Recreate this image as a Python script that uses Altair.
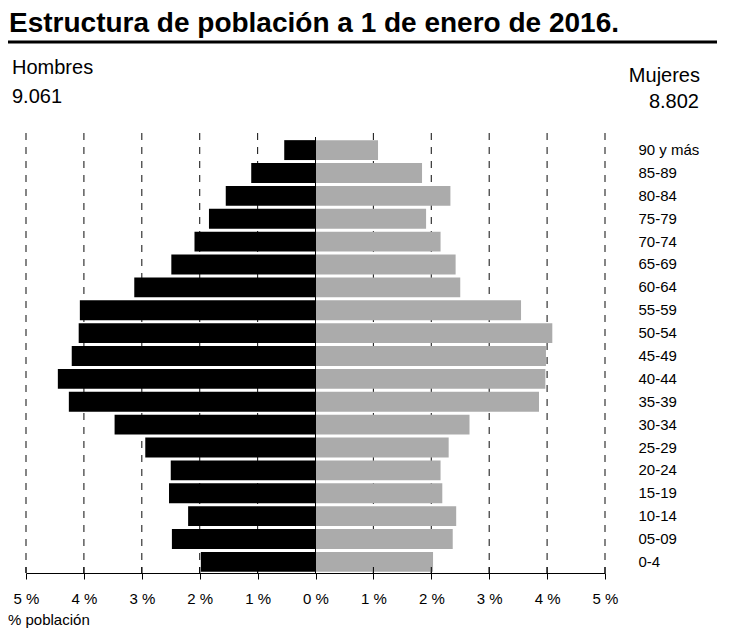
import altair as alt
import pandas as pd

ages = ["90 y más", "85-89", "80-84", "75-79", "70-74", "65-69", "60-64",
        "55-59", "50-54", "45-49", "40-44", "35-39", "30-34", "25-29",
        "20-24", "15-19", "10-14", "05-09", "0-4"]
hombres = [0.54, 1.11, 1.55, 1.84, 2.09, 2.49, 3.13, 4.07, 4.09, 4.21,
           4.45, 4.26, 3.47, 2.94, 2.50, 2.53, 2.20, 2.48, 1.98]
mujeres = [1.08, 1.84, 2.33, 1.91, 2.16, 2.42, 2.50, 3.55, 4.09, 3.98,
           3.97, 3.86, 2.66, 2.30, 2.16, 2.19, 2.43, 2.37, 2.03]
ticks = [-5, -4, -3, -2, -1, 0, 1, 2, 3, 4, 5]
grid_vals = [-5, -4, -3, -2, -1, 1, 2, 3, 4, 5]

title_text = "Estructura de población a 1 de enero de 2016."
total_h = "9.061"
total_m = "8.802"

W, H = 579, 434
FONT = "Liberation Sans"

rows = []
for a, h, m in zip(ages, hombres, mujeres):
    rows.append({"age": a, "sexo": "Hombres", "value": -h})
    rows.append({"age": a, "sexo": "Mujeres", "value": m})
df = pd.DataFrame(rows)

xscale = alt.Scale(domain=[-5, 5], nice=False, zero=False)
xaxis = alt.Axis(values=ticks, labelExpr="abs(datum.value) + ' %'",
                 grid=False, domainColor="black", tickColor="black",
                 tickSize=6, labelPadding=12, labelFont=FONT,
                 labelFontSize=15, labelColor="black", title=None,
                 labelFlush=False, labelOverlap=False)

gdf = pd.DataFrame({"v": grid_vals})
grid = alt.Chart(gdf).mark_rule(color="#222222", strokeWidth=1.1,
                                strokeDash=[7, 7]).encode(
    x=alt.X("v:Q", scale=xscale, axis=xaxis, title=None),
    y=alt.value(-6), y2=alt.value(H))

bars = alt.Chart(df).mark_bar().encode(
    x=alt.X("value:Q", scale=xscale, title=None, axis=xaxis),
    y=alt.Y("age:N", sort=ages, title=None,
            scale=alt.Scale(paddingInner=0.13, paddingOuter=0.05),
            axis=alt.Axis(orient="right", ticks=False, domain=False,
                          labelPadding=33, labelFont=FONT, labelFontSize=15,
                          labelColor="black", labelAlign="left")),
    color=alt.Color("sexo:N", legend=None,
                    scale=alt.Scale(domain=["Hombres", "Mujeres"],
                                    range=["#000000", "#ababab"])),
)

tdf = pd.DataFrame({"v": ticks})
upticks = alt.Chart(tdf).mark_rule(color="black", strokeWidth=1).encode(
    x=alt.X("v:Q", scale=xscale, axis=xaxis, title=None),
    y=alt.value(H - 6), y2=alt.value(H))

zdf = pd.DataFrame({"v": [0]})
zero = alt.Chart(zdf).mark_rule(color="black", strokeWidth=1).encode(
    x=alt.X("v:Q", scale=xscale, axis=xaxis, title=None),
    y=alt.value(-2), y2=alt.value(H))

one = pd.DataFrame({"a": [0]})

def label(text, x, y, size, align="left", bold=False):
    return alt.Chart(one).mark_text(
        align=align, baseline="alphabetic", font=FONT, fontSize=size,
        fontWeight="bold" if bold else "normal", color="black"
    ).encode(x=alt.value(x), y=alt.value(y), text=alt.value(text))

title = label(title_text, -17, -107, 28, bold=True)
underline = alt.Chart(one).mark_rule(color="black", strokeWidth=3).encode(
    x=alt.value(-18), x2=alt.value(709), y=alt.value(-97))
lh = label("Hombres", -14, -65, 20)
lh2 = label(total_h, -14, -36, 20)
lm = label("Mujeres", 674, -57, 20, align="right")
lm2 = label(total_m, 673, -31, 20, align="right")
lp = label("% población", -18, 486, 15)

chart = alt.layer(grid, bars, zero, upticks, title, underline, lh, lh2, lm,
                  lm2, lp).properties(
    width=W, height=H,
    autosize=alt.AutoSizeParams(type="none"),
    padding={"left": 18, "top": 131, "right": 112, "bottom": 55},
    background="white",
).configure_view(stroke=None)

chart.save("out.html", embed_options={"renderer": "svg", "actions": False})
